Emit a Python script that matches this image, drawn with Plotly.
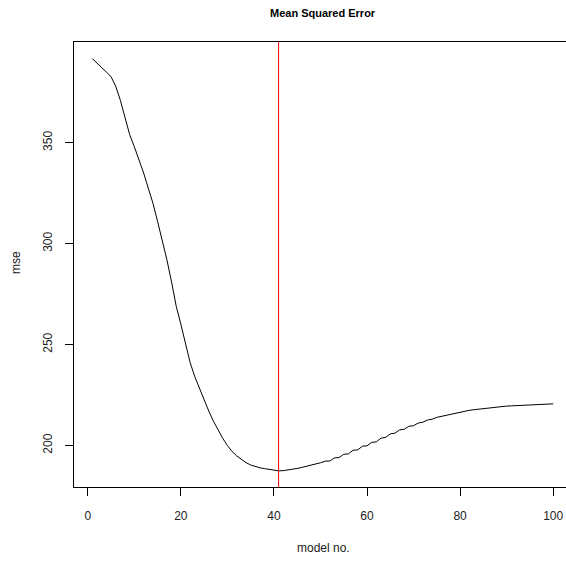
import plotly.graph_objects as go

model_no = list(range(1, 101))
mse = [
    391.6, 389.5, 387.3, 385.0, 382.7, 378.0, 371.0, 362.0, 354.0, 348.0,
    342.0, 335.0, 327.5, 320.0, 311.0, 302.0, 292.0, 281.0, 269.0, 260.0,
    251.0, 241.0, 234.0, 228.0, 222.5, 217.0, 212.0, 207.5, 203.5, 200.0,
    197.0, 194.8, 193.0, 191.5, 190.3, 189.5, 188.9, 188.5, 188.1, 187.8,
    187.4, 187.5, 187.8, 188.2, 188.6, 189.1, 189.6, 190.2, 190.8, 191.4,
    192.2, 192.3, 193.8, 194.0, 195.6, 195.8, 197.6, 197.8, 199.6, 199.8,
    201.5, 201.8, 203.6, 204.0, 205.7, 206.1, 207.7, 208.0, 209.5, 209.8,
    211.1, 211.5, 212.6, 213.0, 213.9, 214.4, 215.0, 215.6, 216.1, 216.6,
    217.0, 217.4, 217.7, 218.0, 218.3, 218.6, 218.8, 219.1, 219.3, 219.5,
    219.6, 219.7, 219.7, 219.8, 219.8, 219.9, 220.0, 220.2, 220.4, 220.6,
]
best_model = 41
x_ticks = [0, 20, 40, 60, 80, 100]
y_ticks = [200, 250, 300, 350]

FONT = "Liberation Sans, Arial, sans-serif"

fig = go.Figure()
fig.add_trace(go.Scatter(x=model_no, y=mse, mode="lines",
                         line=dict(color="black", width=1), hoverinfo="skip"))
fig.add_shape(type="line", xref="x", yref="paper", x0=best_model, x1=best_model,
              y0=0, y1=1, line=dict(color="red", width=1))

fig.update_layout(
    width=566, height=562,
    margin=dict(l=74, r=0, t=42, b=75),
    paper_bgcolor="white", plot_bgcolor="white",
    showlegend=False,
    font=dict(family=FONT, size=12, color="black"),
    xaxis=dict(range=[-2.96, 102.75], tickvals=x_ticks, ticktext=[str(v) for v in x_ticks],
               ticks="outside", ticklen=8, tickcolor="black", showgrid=False, zeroline=False,
               showline=True, linecolor="black", linewidth=1, mirror=True,
               ticklabelstandoff=10, tickfont=dict(size=12, color="#222")),
    yaxis=dict(range=[179.4, 399.9], tickvals=y_ticks, ticktext=[str(v) for v in y_ticks],
               ticks="outside", ticklen=8, tickcolor="black", showgrid=False, zeroline=False,
               showline=True, linecolor="black", linewidth=1, mirror=False,
               tickangle=-90, ticklabelstandoff=8, tickfont=dict(size=12, color="#222")),
    annotations=[
        dict(text="<b>Mean Squared Error</b>", x=323, y=13, xref="paper", yref="paper",
             showarrow=False, font=dict(size=11, color="black")),
        dict(text="model no.", x=323, y=548, showarrow=False, font=dict(size=12, color="#222")),
        dict(text="mse", x=16, y=263, showarrow=False, textangle=-90,
             font=dict(size=12, color="#222")),
    ],
)
# convert pixel positions to paper coordinates for annotations
pw, ph = 566 - 74, 562 - 42 - 75
for a in fig.layout.annotations:
    px, py = a.x, a.y
    a.x = (px - 74) / pw
    a.y = 1 - (py - 42) / ph
    a.xref = "paper"; a.yref = "paper"
    a.xanchor = "center"; a.yanchor = "middle"

fig.write_html("out.html", config={"displayModeBar": False},
               post_script="document.body.style.margin='0px';document.body.style.overflow='hidden';")
